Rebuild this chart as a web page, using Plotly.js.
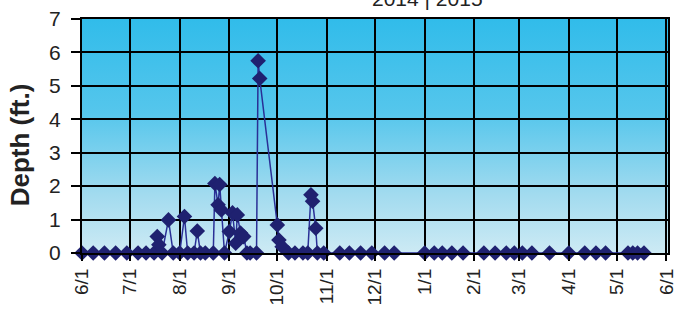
<!DOCTYPE html>
<html>
<head>
<meta charset="utf-8">
<script src="https://cdn.plot.ly/plotly-3.0.1.min.js"></script>
<style>
  html, body { margin: 0; padding: 0; background: #fff; }
  #wrap { position: relative; width: 679px; height: 314px; }
  #bg { position: absolute; left: 82px; top: 19px; width: 586px; height: 234px;
        background: linear-gradient(to bottom, #31bcea 0%, #55c6ec 40%, #a2dbef 75%, #cdeaf4 100%); }
  #chart { position: absolute; left: 0; top: 0; width: 679px; height: 314px; }
</style>
</head>
<body>
<div id="wrap">
  <div id="bg"></div>
  <div id="chart"></div>
</div>
<script>
// Sampling dates (2014-2015 season) and measured depth (ft.)
const dates = [
  '2014-06-01','2014-06-08','2014-06-15','2014-06-22','2014-06-29',
  '2014-07-06','2014-07-11','2014-07-16','2014-07-18','2014-07-19','2014-07-21',
  '2014-07-25','2014-07-28','2014-08-01','2014-08-04','2014-08-06','2014-08-10',
  '2014-08-12','2014-08-14','2014-08-17','2014-08-22','2014-08-23','2014-08-25',
  '2014-08-26','2014-08-27','2014-08-29','2014-09-01','2014-09-03','2014-09-05',
  '2014-09-06','2014-09-08','2014-09-10','2014-09-12','2014-09-14','2014-09-18',
  '2014-09-19','2014-09-20','2014-10-01','2014-10-02','2014-10-04','2014-10-08',
  '2014-10-12','2014-10-17','2014-10-20','2014-10-22','2014-10-23','2014-10-25',
  '2014-10-26','2014-10-30','2014-11-09','2014-11-15','2014-11-22','2014-11-29',
  '2014-12-07','2014-12-13','2015-01-01','2015-01-07','2015-01-12','2015-01-18',
  '2015-01-25','2015-02-07','2015-02-14','2015-02-21','2015-02-26','2015-03-03',
  '2015-03-09','2015-03-20','2015-04-01','2015-04-11','2015-04-18','2015-04-24',
  '2015-05-08','2015-05-11','2015-05-14','2015-05-18'
];
const depth = [
  0,0,0,0,0,
  0,0,0,0.49,0.25,0,
  0.99,0,0,1.09,0,0,
  0.66,0,0,0,2.08,1.44,
  2.05,1.29,0,0.64,1.2,0.29,
  1.14,0.6,0.49,0,0,0,
  5.75,5.22,0.84,0.39,0.19,0,
  0,0,0,1.74,1.55,0.74,
  0,0,0,0,0,0,
  0,0,0,0,0,0,
  0,0,0,0,0,0,
  0,0,0,0,0,0,
  0,0,0,0
];
const tickDates = ['2014-06-01','2014-07-01','2014-08-01','2014-09-01','2014-10-01','2014-11-01',
  '2014-12-01','2015-01-01','2015-02-01','2015-03-01','2015-04-01','2015-05-01','2015-06-01'];
const tickLabels = ['6/1','7/1','8/1','9/1','10/1','11/1','12/1','1/1','2/1','3/1','4/1','5/1','6/1'];
const yTicks = [0,1,2,3,4,5,6,7];
const seasonTitle = '2014 | 2015';
const yTitle = 'Depth (ft.)';

const trace = {
  x: dates, y: depth, type: 'scatter', mode: 'lines+markers',
  line: { color: '#2a2f96', width: 1.5 },
  marker: { symbol: 'diamond', size: 12, color: '#1f2170', line: { color: '#1f2170', width: 0 } },
  cliponaxis: false, hoverinfo: 'x+y'
};

const layout = {
  width: 679, height: 314,
  margin: { l: 82, r: 11, t: 19, b: 61, pad: 0 },
  paper_bgcolor: 'rgba(0,0,0,0)', plot_bgcolor: 'rgba(0,0,0,0)',
  showlegend: false,
  font: { family: 'Liberation Sans, Arial, sans-serif', color: '#222' },
  xaxis: {
    type: 'date', range: ['2014-06-01', '2015-06-02'],
    tickmode: 'array', tickvals: tickDates, ticktext: tickLabels,
    tickangle: -90, tickfont: { size: 19, color: '#222' },
    showgrid: true, gridcolor: '#000', gridwidth: 2,
    ticks: 'outside', ticklen: 6, tickcolor: '#000', tickwidth: 2,
    showline: true, linecolor: '#000', linewidth: 2, mirror: true,
    zeroline: false
  },
  yaxis: {
    range: [0, 7], tickmode: 'array', tickvals: yTicks,
    tickfont: { size: 21, color: '#222' },
    showgrid: true, gridcolor: '#000', gridwidth: 2,
    ticks: 'outside', ticklen: 9, tickcolor: '#000', tickwidth: 2,
    ticklabelstandoff: 6,
    showline: true, linecolor: '#000', linewidth: 2, mirror: true,
    zeroline: false
  },
  annotations: [{
    text: seasonTitle, xref: 'paper', yref: 'paper', x: 0.589, y: 1,
    xanchor: 'center', yanchor: 'bottom', yshift: 7, showarrow: false,
    font: { size: 21, color: '#222' }
  }, {
    text: '<b>' + yTitle + '</b>', xref: 'paper', yref: 'paper', x: 0, y: 0.46,
    xanchor: 'center', yanchor: 'middle', xshift: -62, textangle: -90, showarrow: false,
    font: { size: 26, color: '#222' }
  }]
};

Plotly.newPlot('chart', [trace], layout, { staticPlot: true, displayModeBar: false });
</script>
</body>
</html>
